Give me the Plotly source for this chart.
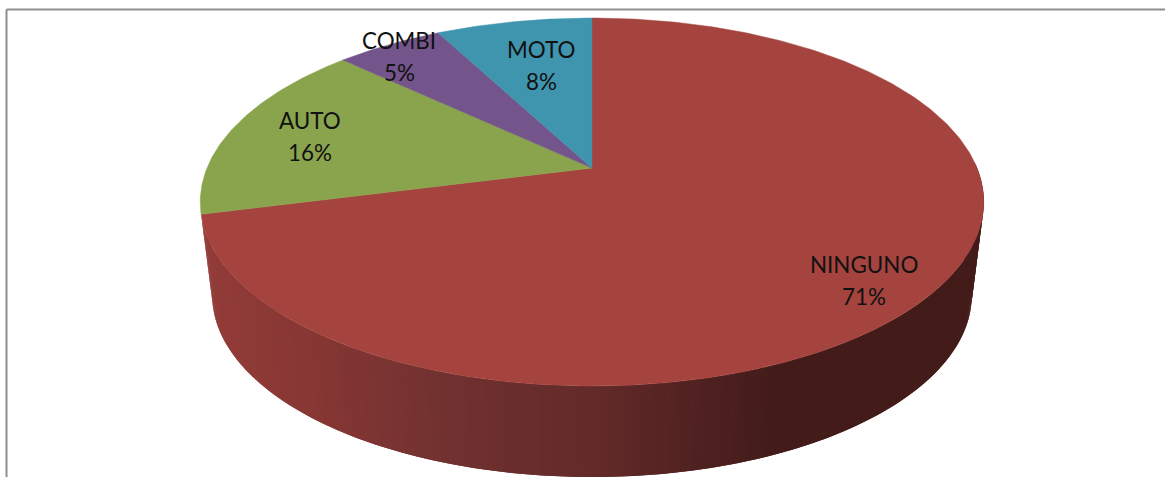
import numpy as np
import plotly.graph_objects as go

# ---- data -------------------------------------------------------------
categories = ["NINGUNO", "AUTO", "COMBI", "MOTO"]
values = [71.0, 16.0, 5.3, 7.7]

# ---- style ------------------------------------------------------------
slice_colors = ["#A5443F", "#8AA44D", "#73558B", "#3F94AE"]
frame_color = "#8E8E8E"
font_family = "Lato, 'Open Sans', sans-serif"
font_size = 22.4
line_gap = 32
side_x = [205, 300, 450, 600, 700, 775, 990]
side_rgb = [(0x92, 0x3C, 0x39), (0x88, 0x37, 0x34), (0x70, 0x31, 0x30),
            (0x62, 0x2A, 0x29), (0x4F, 0x21, 0x20), (0x43, 0x1C, 0x1A), (0x43, 0x1C, 0x1A)]

W, H = 1165, 477
APEX_X, APEX_Y = 592.0, 168.0
SX, SY, K = 385.0, 177.7, 0.185
EX_CY, B_CY, B_SCALE_X, B_SCALE_Y = 202.0, 295.0, 380 / 392, 182 / 184


def top_rim(frac):
    """Perspective projection of the rim point at a clockwise pie fraction."""
    a = 2 * np.pi * np.asarray(frac)
    u, up = np.sin(a), np.cos(a)
    w = 1 + K * up
    return APEX_X + SX * u / w, APEX_Y - SY * up / w


def bottom_rim(frac):
    x, y = top_rim(frac)
    return APEX_X + B_SCALE_X * (x - APEX_X), B_CY + B_SCALE_Y * (y - EX_CY)


fig = go.Figure()

# extruded wall of the first slice: overlapping bands painted in order, so no seams show
total = sum(values)
fracs = np.cumsum([0] + values) / total
edges = np.linspace(0.245, fracs[1], 221)
for j in range(len(edges) - 1):
    f0, f1 = edges[j], edges[min(j + 2, len(edges) - 1)]
    band = np.linspace(f0, f1, 3)
    tx, ty = top_rim(band)
    bx, by = bottom_rim(band)
    xm = float(top_rim((edges[j] + edges[j + 1]) / 2)[0])
    rgb = [np.interp(xm, side_x, [c[i] for c in side_rgb]) for i in range(3)]
    col = "rgb(%d,%d,%d)" % tuple(round(c) for c in rgb)
    fig.add_trace(go.Scatter(x=[*tx, *bx[::-1], tx[0]], y=[*ty, *by[::-1], ty[0]], mode="lines",
                             fill="toself", fillcolor=col, line=dict(width=0),
                             hoverinfo="skip", showlegend=False))

# top faces
for i, name in enumerate(categories):
    arc = np.linspace(fracs[i], fracs[i + 1], max(8, int(values[i] * 5)))
    ax, ay = top_rim(arc)
    fig.add_trace(go.Scatter(x=[APEX_X, *ax, APEX_X], y=[APEX_Y, *ay, APEX_Y], mode="lines",
                             fill="toself", fillcolor=slice_colors[i],
                             line=dict(color=slice_colors[i], width=0.5),
                             name=name, hoverinfo="name", showlegend=False))

# labels: name and percentage stacked around the label centre
label_pos = {"NINGUNO": (863.5, 280), "AUTO": (310, 136.5), "COMBI": (399, 56.5), "MOTO": (541, 65.5)}
for name, val in zip(categories, values):
    lx, ly = label_pos[name]
    for text, dy in ((name, -line_gap / 2), (f"{round(val / total * 100)}%", line_gap / 2)):
        fig.add_annotation(x=lx, y=ly + dy, text=text, showarrow=False,
                           font=dict(family=font_family, size=font_size, color="#111111"),
                           xanchor="center", yanchor="middle", align="center")

# chart frame, open at the right and bottom edges of the crop
fig.add_shape(type="line", x0=6.5, x1=W + 5, y0=9.5, y1=9.5, line=dict(color=frame_color, width=2))
fig.add_shape(type="line", x0=6.5, x1=6.5, y0=9.5, y1=H + 5, line=dict(color=frame_color, width=2))

fig.update_layout(width=W, height=H, margin=dict(l=0, r=0, t=0, b=0), paper_bgcolor="white",
                  plot_bgcolor="white", showlegend=False,
                  xaxis=dict(range=[0, W], visible=False, fixedrange=True),
                  yaxis=dict(range=[H, 0], visible=False, fixedrange=True))

fig.write_html("out.html", config={"displayModeBar": False},
               post_script="document.body.style.margin='0';document.body.style.overflow='hidden';")
